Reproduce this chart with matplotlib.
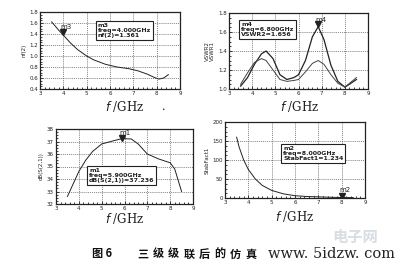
import matplotlib
matplotlib.use("Agg")
import matplotlib.pyplot as plt
from matplotlib.ticker import MultipleLocator

plt.rcParams["font.family"] = ["DejaVu Sans", "Noto Sans CJK SC"]

# noise figure nf(2)
nf_f = [3.5, 3.8, 4.0, 4.3, 4.6, 5.0, 5.3, 5.8, 6.3, 6.8, 7.2, 7.6, 7.9, 8.1, 8.3, 8.5]
nf_v = [1.62, 1.47, 1.38, 1.24, 1.12, 1.0, 0.93, 0.85, 0.8, 0.77, 0.73, 0.67, 0.61, 0.58, 0.6, 0.66]

# VSWR1 / VSWR2
vs_f = [3.5, 3.8, 4.1, 4.4, 4.6, 4.9, 5.2, 5.5, 5.8, 6.0, 6.3, 6.6, 6.85, 7.1, 7.4, 7.7, 8.0, 8.2, 8.5]
vswr1 = [1.03, 1.12, 1.26, 1.37, 1.4, 1.32, 1.15, 1.1, 1.12, 1.15, 1.3, 1.55, 1.656, 1.52, 1.25, 1.08, 1.02, 1.05, 1.1]
vswr2 = [1.05, 1.17, 1.28, 1.32, 1.3, 1.2, 1.1, 1.08, 1.09, 1.1, 1.18, 1.27, 1.3, 1.26, 1.15, 1.06, 1.02, 1.06, 1.12]

# gain dB(S(2,1))
s21_f = [3.5, 3.8, 4.0, 4.3, 4.6, 5.0, 5.5, 5.9, 6.3, 6.6, 7.0, 7.5, 8.0, 8.2, 8.35, 8.5]
s21_v = [32.6, 33.8, 34.6, 35.5, 36.2, 36.8, 37.05, 37.236, 37.2, 36.8, 36.0, 35.6, 35.3, 34.8, 33.9, 33.0]

# stability factor
k_f = [3.5, 3.6, 3.8, 4.0, 4.3, 4.6, 5.0, 5.5, 6.0, 6.5, 7.0, 7.5, 8.0, 8.5]
k_v = [160, 135, 100, 75, 50, 33, 20, 11, 6, 4, 3, 2, 1.234, 1]

caption_head = "图 6"
caption_body = "三级级联后的仿真"  # the rest is hidden under the watermark
watermark = "www. 5idzw. com"

ink = "#222222"


def px_axes(fig, left, right, top, bottom):
    W, H = 400, 267
    return fig.add_axes([left / W, (H - bottom) / H, (right - left) / W, (bottom - top) / H])


def style(ax, ylim, ystep, ylabel):
    ax.set_xlim(3, 9)
    ax.set_ylim(*ylim)
    ax.xaxis.set_major_locator(MultipleLocator(1))
    ax.xaxis.set_minor_locator(MultipleLocator(0.2))
    ax.yaxis.set_major_locator(MultipleLocator(ystep))
    ax.yaxis.set_minor_locator(MultipleLocator(ystep / 4))
    ax.tick_params(which="both", direction="in", labelsize=4, width=0.6, colors=ink, pad=1.5)
    ax.tick_params(which="major", length=2.5)
    ax.tick_params(which="minor", length=1.2)
    ax.grid(True, which="major", linestyle=(0, (1.5, 1.5)), color="#555555", linewidth=0.5)
    for s in ax.spines.values():
        s.set_linewidth(0.9)
        s.set_color(ink)
    ax.set_ylabel(ylabel, fontsize=4, color=ink, labelpad=2)


def marker(ax, x, y, name, dy):
    ax.plot([x], [y], marker="v", color=ink, markersize=5, linestyle="none")
    ax.annotate(name, (x, y), xytext=(2, dy), textcoords="offset points",
                ha="center", fontsize=5, color=ink)


def box(fig, x, y, lines):
    fig.text(x / 400, 1 - y / 267, "\n".join(lines), fontsize=4.5, color=ink,
             va="top", ha="left", linespacing=1.05, weight="bold",
             bbox=dict(boxstyle="square,pad=0.25", fc="white", ec=ink, lw=0.8))


fig = plt.figure(figsize=(4, 2.67), dpi=100)
fig.patch.set_facecolor("white")

ax1 = px_axes(fig, 40, 180, 12, 89)
style(ax1, (0.4, 1.8), 0.2, "nf(2)")
ax1.plot(nf_f, nf_v, color=ink, lw=0.7)
marker(ax1, 4.0, 1.44, "m3", 2)
box(fig, 98, 23, ["m3", "freq=4.000GHz", "nf(2)=1.361"])

ax2 = px_axes(fig, 229, 368, 13, 89)
style(ax2, (1.0, 1.8), 0.2, "VSWR2\nVSWR1")
ax2.plot(vs_f, vswr1, color=ink, lw=0.9)
ax2.plot(vs_f, vswr2, color="#444444", lw=0.7)
marker(ax2, 6.85, 1.68, "m4", 2)
box(fig, 241, 22, ["m4", "freq=6.800GHz", "VSWR2=1.656"])

ax3 = px_axes(fig, 56, 193, 129, 204)
style(ax3, (32, 38), 1, "dB(S(2,1))")
ax3.plot(s21_f, s21_v, color=ink, lw=0.7)
marker(ax3, 5.9, 37.3, "m1", 2)
box(fig, 89, 168, ["m1", "freq=5.900GHz", "dB(S(2,1))=37.236"])

ax4 = px_axes(fig, 225, 365, 122, 198)
style(ax4, (0, 200), 50, "StabFact1")
ax4.plot(k_f, k_v, color=ink, lw=0.7)
marker(ax4, 8.0, 4, "m2", 3)
box(fig, 283, 146, ["m2", "freq=8.000GHz", "StabFact1=1.234"])

for x, y in [(125, 106), (300, 106), (125, 219), (295, 216)]:
    fig.text(x / 400, 1 - y / 267, r"$f$ /GHz", fontsize=8.5, family="DejaVu Serif",
             ha="center", va="center", color=ink)
fig.text(163 / 400, 1 - 110 / 267, "•", fontsize=4, color=ink, ha="center", va="center")

fig.text(355 / 400, 1 - 237 / 267, "电子网", fontsize=11, color="#d8dde3",
         ha="center", va="center", family=["Noto Sans CJK SC"], weight="bold")
fig.text(92 / 400, 1 - 254 / 267, caption_head, fontsize=8,
         family=["Noto Sans CJK SC"], weight="bold", ha="left", va="center", color="#111111")
for i, ch in enumerate(caption_body):
    fig.text((137 + 15.5 * i) / 400, 1 - 254 / 267, ch, fontsize=8,
             family=["Noto Sans CJK SC"], weight="bold", ha="left", va="center", color="#111111")
fig.text(268 / 400, 1 - 254 / 267, watermark, fontsize=10.5,
         family="DejaVu Serif", ha="left", va="center", color="#222222")

fig.savefig("out.png", dpi=100, facecolor="white")
